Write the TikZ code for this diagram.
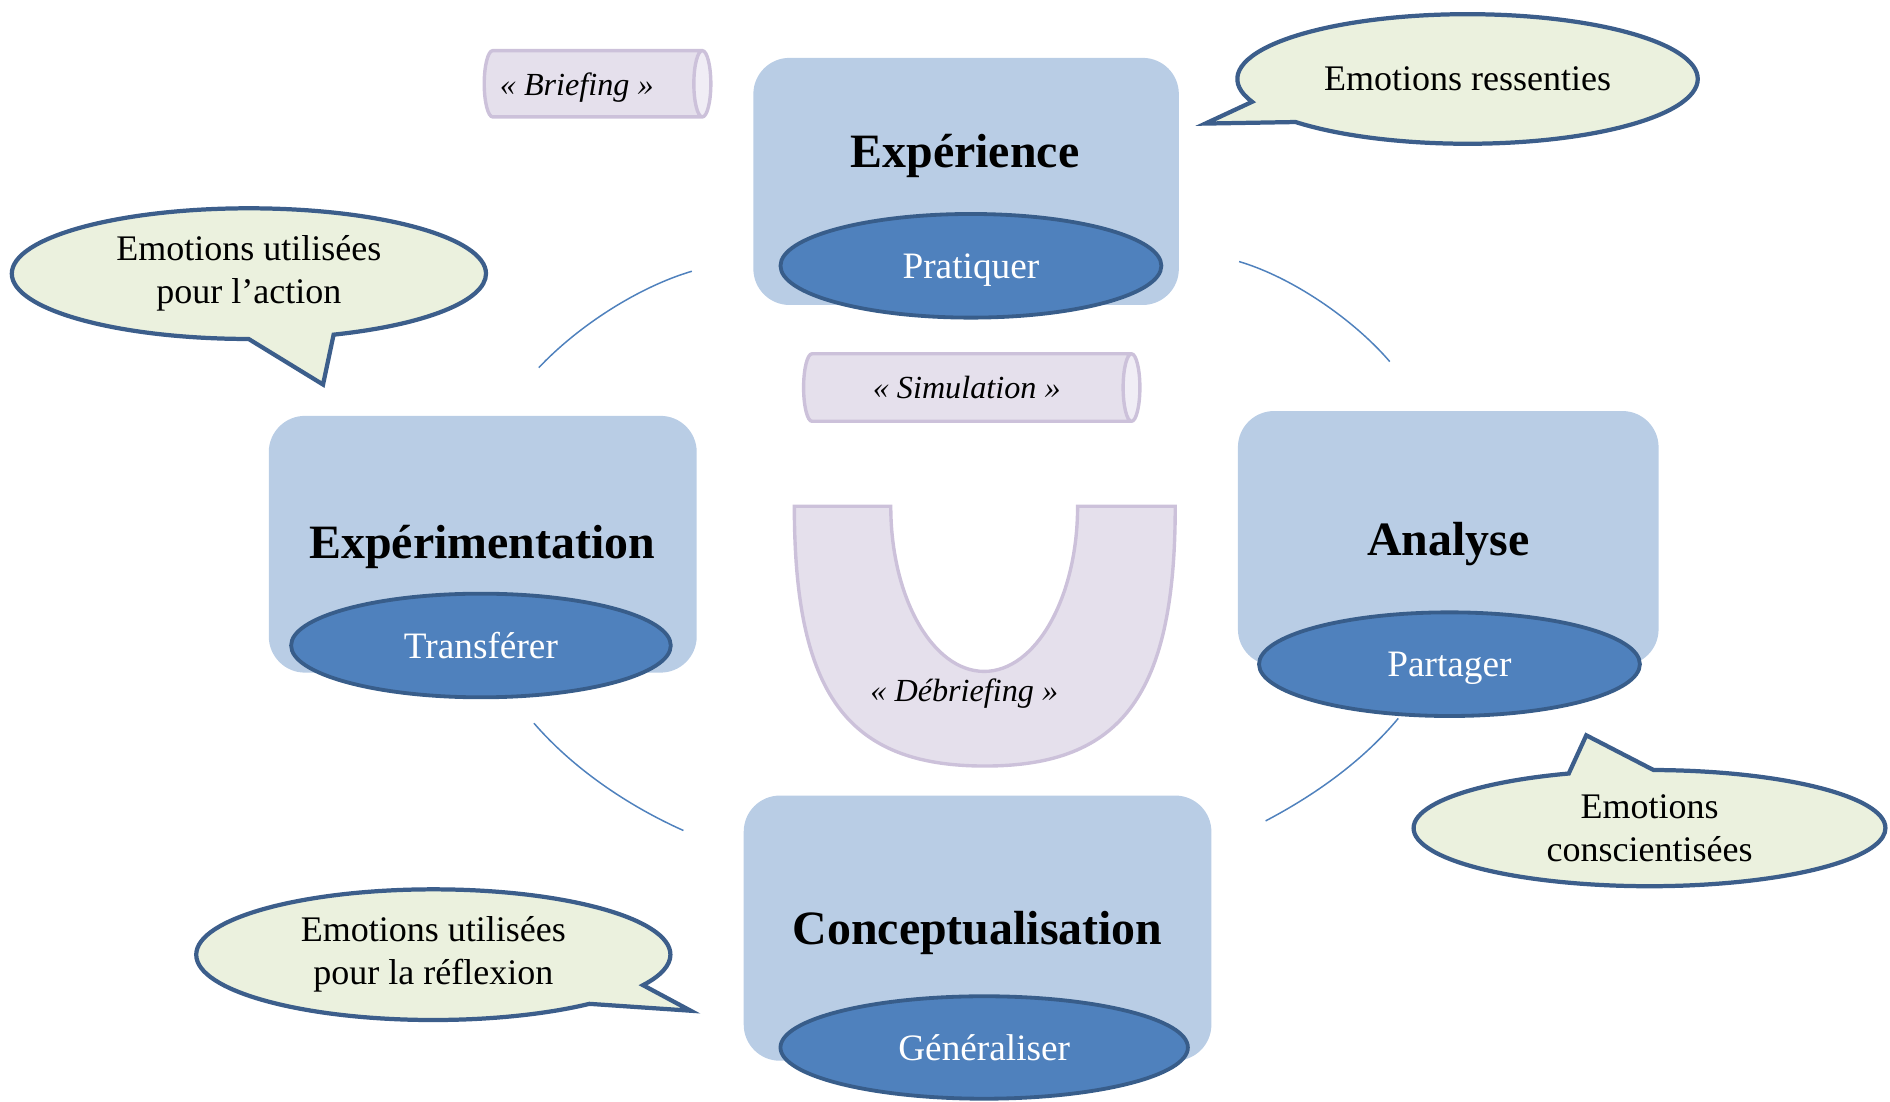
\documentclass[tikz,border=0pt]{standalone}
\usepackage{fontspec}
\setmainfont{Liberation Serif}
\usetikzlibrary{shapes.geometric,shapes.callouts}

\definecolor{boxFill}{HTML}{B9CDE5}
\definecolor{ovalFill}{HTML}{4F81BD}
\definecolor{ovalLine}{HTML}{385D8A}
\definecolor{bubbleFill}{HTML}{EBF1DE}
\definecolor{bubbleLine}{HTML}{3C5E8B}
\definecolor{tubeFill}{HTML}{E5E0EC}
\definecolor{tubeEnd}{HTML}{F0EDF5}
\definecolor{tubeLine}{HTML}{CCC1DA}

\tikzset{
  stage/.style={rectangle,rounded corners=0.3cm,fill=boxFill,inner sep=0pt},
  stageTitle/.style={anchor=base,font=\fontsize{11.3}{13}\selectfont\bfseries},
  verb/.style={ellipse,fill=ovalFill,draw=ovalLine,line width=0.9pt,inner sep=0pt,
    text=white,text depth=0pt,font=\fontsize{8.8}{10.5}\selectfont},
  bubble/.style={ellipse callout,fill=bubbleFill,draw=bubbleLine,line width=1pt,
    inner sep=0pt,align=center,callout pointer arc=21,font=\fontsize{8.5}{10.2}\selectfont},
  tube/.style={cylinder,cylinder uses custom fill,cylinder body fill=tubeFill,
    cylinder end fill=tubeEnd,draw=tubeLine,line width=0.8pt,aspect=0.75,
    inner sep=0pt,text depth=0pt,font=\fontsize{7.6}{9}\selectfont\itshape},
  cycleArc/.style={draw=ovalFill,line width=0.35pt}
}

\begin{document}
\begin{tikzpicture}
  \useasboundingbox (0,0) rectangle (15.68,-9.14);

  % Arcs of the cycle
  \coordinate (tlA) at (5.74,-2.25);
  \coordinate (tlB) at (4.47,-3.05);
  \coordinate (trA) at (10.28,-2.17);
  \coordinate (trB) at (11.53,-3.00);
  \coordinate (blA) at (4.43,-6.00);
  \coordinate (blB) at (5.67,-6.89);
  \coordinate (brA) at (11.60,-5.96);
  \coordinate (brB) at (10.50,-6.81);
  \draw[cycleArc] (tlA) .. controls (5.30,-2.38) and (4.80,-2.70) .. (tlB);
  \draw[cycleArc] (trA) .. controls (10.72,-2.30) and (11.23,-2.65) .. (trB);
  \draw[cycleArc] (blA) .. controls (4.75,-6.37) and (5.20,-6.68) .. (blB);
  \draw[cycleArc] (brA) .. controls (11.30,-6.32) and (10.90,-6.60) .. (brB);

  % Stages
  \node[stage,minimum width=3.53cm,minimum height=2.05cm] (boxExp) at (8.015,-1.505) {};
  \node[stage,minimum width=3.55cm,minimum height=2.13cm] (boxExpm) at (4.005,-4.515) {};
  \node[stage,minimum width=3.49cm,minimum height=2.11cm] (boxAna) at (12.015,-4.465) {};
  \node[stage,minimum width=3.88cm,minimum height=2.20cm] (boxCon) at (8.11,-7.70) {};

  \node[stageTitle] (tExp) at (8.005,-1.39) {Expérience};
  \node[stageTitle] (tExpm) at (4.00,-4.635) {Expérimentation};
  \node[stageTitle] (tAna) at (12.015,-4.605) {Analyse};
  \node[stageTitle] (tCon) at (8.11,-7.835) {Conceptualisation};

  \node[verb,minimum width=3.16cm,minimum height=0.86cm] (ovPrat) at (8.055,-2.205) {Pratiquer};
  \node[verb,minimum width=3.15cm,minimum height=0.86cm] (ovTrans) at (3.99,-5.355) {Transférer};
  \node[verb,minimum width=3.16cm,minimum height=0.86cm] (ovPart) at (12.025,-5.51) {Partager};
  \node[verb,minimum width=3.38cm,minimum height=0.85cm] (ovGen) at (8.165,-8.69) {Généraliser};

  % Briefing, simulation, debriefing
  \node[tube,minimum height=1.88cm,minimum width=0.55cm] (tubeBrief) at (4.915,-0.695) {«~Briefing~»\hspace*{0.26cm}};
  \node[tube,minimum height=2.79cm,minimum width=0.56cm] (tubeSim) at (8.02,-3.215) {«~Simulation~»};

  \draw[draw=tubeLine,fill=tubeFill,line width=0.8pt]
    (6.59,-4.20) -- (7.39,-4.20)
    arc[start angle=180,end angle=360,x radius=0.775,y radius=1.37]
    -- (9.75,-4.20)
    .. controls (9.75,-5.762) and (9.308,-6.355) .. (8.17,-6.355)
    .. controls (7.032,-6.355) and (6.59,-5.762) .. cycle;
  \node[font=\fontsize{7.6}{9}\selectfont\itshape] (tDebrief) at (8.00,-5.75) {«~Débriefing~»};

  % Emotions
  \node[bubble,minimum width=3.82cm,minimum height=1.075cm,
    callout absolute pointer={(10.0,-1.025)}] (bubRess) at (12.175,-0.655) {Emotions ressenties};
  \node[bubble,minimum width=3.934cm,minimum height=1.084cm,
    callout absolute pointer={(2.68,-3.19)}] (bubAction) at (2.065,-2.27) {Emotions utilisées\\pour l’action};
  \node[bubble,minimum width=3.914cm,minimum height=0.964cm,
    callout absolute pointer={(13.16,-6.10)}] (bubConsc) at (13.685,-6.87) {Emotions\\conscientisées};
  \node[bubble,minimum width=3.934cm,minimum height=1.084cm,
    callout absolute pointer={(5.73,-8.385)}] (bubReflex) at (3.595,-7.92) {Emotions utilisées\\pour la réflexion};

\end{tikzpicture}
\end{document}
